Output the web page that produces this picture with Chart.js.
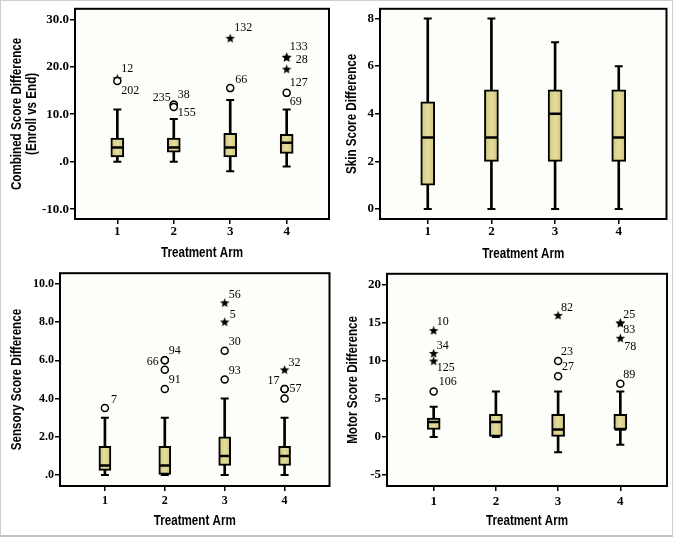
<!DOCTYPE html>
<html>
<head>
<meta charset="utf-8">
<script src="https://cdn.jsdelivr.net/npm/chart.js@4"></script>
<style>
    body { margin: 0; background: #fff; }
    #frame { position: absolute; left: 0; top: 0; width: 671px; height: 534px; border: 1px solid #cfcfcf; border-bottom: 2px solid #c4c4c4; }
    canvas { position: absolute; }
</style>
</head>
<body>
<div id="frame"></div>
<canvas id="combinedChart"></canvas>
<canvas id="skinChart"></canvas>
<canvas id="sensoryChart"></canvas>
<canvas id="motorChart"></canvas>
<script>
const arms = [1, 2, 3, 4];

// [lower whisker, Q1, median, Q3, upper whisker] for arms 1-4
const combinedBoxes = [[0, 1, 3, 5, 11], [0, 2, 3, 5, 9], [-2, 1, 3, 6, 13], [-1, 1.75, 4, 5.75, 11]];
const skinBoxes = [[0, 1, 3, 4.5, 8], [0, 2, 3, 5, 8], [0, 2, 4, 5, 7], [0, 2, 3, 5, 6]];
const sensoryBoxes = [[0, 0.25, 0.5, 1.5, 3], [0, 0, 0.5, 1.5, 3], [0, 0.5, 1, 2, 4], [0, 0.5, 1, 1.5, 3]];
const motorBoxes = [[0, 1, 2, 2.5, 4], [0, 0, 2, 3, 6], [-2, 0, 1, 3, 6], [-1, 1, 1, 3, 6]];

// outliers: [arm, value, "o" = outlier / "*" = extreme, case number]
const combinedOutliers = [
    [1, 17.5, "*", "12"], [1, 17, "o", "202"],
    [2, 12, "o", "235"], [2, 12, "o", "38"], [2, 11.5, "o", "155"],
    [3, 26, "*", "132"], [3, 15.5, "o", "66"],
    [4, 22, "*", "133"], [4, 22, "*", "28"], [4, 19.5, "*", "127"], [4, 14.5, "o", "69"]
];
const skinOutliers = [];
const sensoryOutliers = [
    [1, 3.5, "o", "7"],
    [2, 6, "o", "94"], [2, 6, "o", "66"], [2, 5.5, "o", ""], [2, 4.5, "o", "91"],
    [3, 9, "*", "56"], [3, 8, "*", "5"], [3, 6.5, "o", "30"], [3, 5, "o", "93"],
    [4, 5.5, "*", "32"], [4, 4.5, "o", "17"], [4, 4.5, "o", "57"], [4, 4, "o", ""]
];
const motorOutliers = [
    [1, 14, "*", "10"], [1, 11, "*", "34"], [1, 10, "*", "125"], [1, 6, "o", "106"],
    [3, 16, "*", "82"], [3, 10, "o", "23"], [3, 8, "o", "27"],
    [4, 15, "*", "25"], [4, 15, "*", "83"], [4, 13, "*", "78"], [4, 7, "o", "89"]
];

const combinedTicks = [-10, 0, 10, 20, 30];
const combinedTickLabels = ["-10.0", ".0", "10.0", "20.0", "30.0"];
const skinTicks = [0, 2, 4, 6, 8];
const skinTickLabels = ["0", "2", "4", "6", "8"];
const sensoryTicks = [0, 2, 4, 6, 8, 10];
const sensoryTickLabels = [".0", "2.0", "4.0", "6.0", "8.0", "10.0"];
const motorTicks = [-5, 0, 5, 10, 15, 20];
const motorTickLabels = ["-5", "0", "5", "10", "15", "20"];

// where each case number sits next to its marker: [dx, dy, align]
const combinedLabelPos = [[4, -10, "left"], [4, 10, "left"], [-3, -7, "right"], [4, -10, "left"], [4, 6, "left"],
    [4, -10, "left"], [5, -8, "left"], [3, -10, "left"], [9, 3, "left"], [3, 14, "left"], [3, 9, "left"]];
const skinLabelPos = [];
const sensoryLabelPos = [[6, -8, "left"], [4, -9, "left"], [-6, 2, "right"], [0, 0, "left"], [4, -9, "left"],
    [4, -8, "left"], [5, -7, "left"], [4, -9, "left"], [4, -9, "left"],
    [4, -7, "left"], [-5, -8, "right"], [5, 0, "left"], [0, 0, "left"]];
const motorLabelPos = [[3, -9, "left"], [3, -8, "left"], [3, 7, "left"], [5, -10, "left"],
    [3, -8, "left"], [3, -9, "left"], [4, -9, "left"],
    [3, -8, "left"], [3, 7, "left"], [4, 9, "left"], [3, -9, "left"]];

const serif = "'Liberation Serif', 'Times New Roman', serif";
const titleFontCss = "bold 14px 'Liberation Sans', Arial, sans-serif";
const caseFont = "12px " + serif;

const starImg = document.createElement("canvas");
starImg.width = 11;
starImg.height = 11;
(() => {
    const c = starImg.getContext("2d");
    c.fillStyle = "#000";
    c.beginPath();
    for (let i = 0; i < 10; i++) {
        const r = i % 2 === 0 ? 5 : 2.1;
        const a = -Math.PI / 2 + i * Math.PI / 5;
        c.lineTo(5.5 + r * Math.cos(a), 5.8 + r * Math.sin(a));
    }
    c.closePath();
    c.fill();
})();

// khaki box with a lighter middle, like the SPSS fill
const boxFill = (c, w) => {
    const x = c.raw ? c.chart.scales.x.getPixelForValue(c.raw.x) : NaN;
    if (!isFinite(x)) return "#dad28c";
    const g = c.chart.ctx.createLinearGradient(x - w / 2, 0, x + w / 2, 0);
    g.addColorStop(0, "#cdc378");
    g.addColorStop(0.5, "#e4dd9f");
    g.addColorStop(1, "#cdc378");
    return g;
};

const panelFrame = {
    id: "panelFrame",
    beforeDatasetsDraw(chart) {
        const {ctx, chartArea: a} = chart;
        ctx.save();
        ctx.fillStyle = "#fdfdf9";
        ctx.fillRect(a.left, a.top, a.right - a.left, a.bottom - a.top);
        ctx.restore();
    },
    afterDraw(chart) {
        const {ctx, chartArea: a} = chart;
        ctx.save();
        ctx.strokeStyle = "#000";
        ctx.lineWidth = 2;
        ctx.strokeRect(a.left, a.top, a.right - a.left, a.bottom - a.top);
        ctx.restore();
    }
};

// SPSS used a narrow bold sans for the axis titles, squeeze Liberation Sans to match
const axisTitles = {
    id: "axisTitles",
    afterDraw(chart, args, o) {
        const {ctx, chartArea: a} = chart;
        ctx.save();
        ctx.font = titleFontCss;
        ctx.fillStyle = "#000";
        ctx.textAlign = "center";
        ctx.textBaseline = "middle";
        ctx.save();
        ctx.translate((a.left + a.right) / 2, o.xTitleY);
        ctx.scale(0.83, 1);
        ctx.fillText(o.xTitle, 0, 0);
        ctx.restore();
        o.yTitle.forEach((line, i) => {
            ctx.save();
            ctx.translate(o.yTitleX[i], (a.top + a.bottom) / 2);
            ctx.rotate(-Math.PI / 2);
            ctx.scale(0.83, 1);
            ctx.fillText(line, 0, 0);
            ctx.restore();
        });
        ctx.restore();
    }
};

const caseLabels = {
    id: "caseLabels",
    afterDatasetsDraw(chart, args, opts) {
        const {ctx, scales: {x, y}} = chart;
        ctx.save();
        ctx.font = caseFont;
        ctx.fillStyle = "#000";
        ctx.textBaseline = "middle";
        opts.outliers.forEach((o, i) => {
            const [dx, dy, align] = opts.pos[i];
            ctx.textAlign = align;
            ctx.fillText(o[3], x.getPixelForValue(o[0]) + dx, y.getPixelForValue(o[1]) + dy);
        });
        ctx.restore();
    }
};

const makeChart = (p) => {
    const canvas = document.getElementById(p.id);
    canvas.width = p.rect[2];
    canvas.height = p.rect[3];
    canvas.style.left = p.rect[0] + "px";
    canvas.style.top = p.rect[1] + "px";

    const circles = p.outliers.filter(o => o[2] === "o").map(o => ({x: o[0], y: o[1]}));
    const stars = p.outliers.filter(o => o[2] === "*").map(o => ({x: o[0], y: o[1]}));
    const tickFont = {family: serif, weight: "bold", size: p.tickSize};

    new Chart(canvas, {
        data: {
            datasets: [{
                type: "bar",
                data: arms.map((a, i) => ({x: a, y: [p.boxes[i][1], p.boxes[i][3]]})),
                backgroundColor: c => boxFill(c, p.boxWidth),
                borderColor: "#000",
                borderWidth: 2,
                borderSkipped: false,
                barThickness: p.boxWidth,
                grouped: false,
                order: 2
            }, {
                type: "bar",
                data: arms.map((a, i) => ({x: a, y: [p.boxes[i][0], p.boxes[i][4]]})),
                backgroundColor: "#000",
                barThickness: 2,
                grouped: false,
                order: 3
            }, {
                type: "scatter",
                data: arms.flatMap((a, i) => [{x: a, y: p.boxes[i][0]}, {x: a, y: p.boxes[i][4]}]),
                pointStyle: "line",
                pointRadius: 4,
                pointBorderColor: "#000",
                pointBorderWidth: 2,
                order: 1
            }, {
                type: "scatter",
                data: arms.map((a, i) => ({x: a, y: p.boxes[i][2]})),
                pointStyle: "line",
                pointRadius: p.boxWidth / 2 - 1,
                pointBorderColor: "#000",
                pointBorderWidth: 2.5,
                order: 0
            }, {
                type: "scatter",
                data: circles,
                pointStyle: "circle",
                pointRadius: 3.5,
                pointBackgroundColor: "#fff",
                pointBorderColor: "#000",
                pointBorderWidth: 1.5,
                order: 0
            }, {
                type: "scatter",
                data: stars,
                pointStyle: starImg,
                order: 0
            }]
        },
        options: {
            animation: false,
            responsive: false,
            events: [],
            layout: {padding: {top: p.pad[0], right: p.pad[1], left: 0, bottom: 0}},
            plugins: {
                legend: {display: false},
                tooltip: {enabled: false},
                caseLabels: {outliers: p.outliers, pos: p.labelPos},
                axisTitles: {xTitle: "Treatment Arm", xTitleY: p.xTitleY, yTitle: p.title, yTitleX: p.yTitleX}
            },
            scales: {
                x: {
                    type: "linear",
                    offset: false,
                    min: 0.25,
                    max: 4.75,
                    afterBuildTicks: s => { s.ticks = arms.map(v => ({value: v})); },
                    afterFit: s => { s.height = p.xHeight; },
                    ticks: {font: tickFont, color: "#000", padding: p.xTickPad, callback: v => String(v)},
                    grid: {offset: false, drawOnChartArea: false, color: "#000", lineWidth: 1.5, tickLength: 5},
                    border: {display: false}
                },
                y: {
                    type: "linear",
                    min: p.range[0],
                    max: p.range[1],
                    afterBuildTicks: s => { s.ticks = p.ticks.map(v => ({value: v})); },
                    afterFit: s => { s.width = p.yWidth; },
                    ticks: {font: tickFont, color: "#000", padding: 1, callback: (v, i) => p.tickLabels[i]},
                    grid: {drawOnChartArea: false, color: "#000", lineWidth: 1.5, tickLength: 5},
                    border: {display: false}
                }
            }
        },
        plugins: [panelFrame, axisTitles, caseLabels]
    });
};

[{
    id: "combinedChart", rect: [0, 0, 337, 265], pad: [5, 4], yWidth: 75, xHeight: 46, tickSize: 13,
    xTickPad: 0, xTitleY: 253, yTitleX: [17, 32], boxWidth: 13, range: [-12.07, 32.21],
    boxes: combinedBoxes, outliers: combinedOutliers, labelPos: combinedLabelPos,
    ticks: combinedTicks, tickLabels: combinedTickLabels,
    title: ["Combined Score Difference", "(Enroll vs End)"]
}, {
    id: "skinChart", rect: [337, 0, 338, 265], pad: [5, 7], yWidth: 43, xHeight: 46, tickSize: 13,
    xTickPad: 0, xTitleY: 254, yTitleX: [15], boxWidth: 14, range: [-0.425, 8.41],
    boxes: skinBoxes, outliers: skinOutliers, labelPos: skinLabelPos,
    ticks: skinTicks, tickLabels: skinTickLabels,
    title: ["Skin Score Difference"]
}, {
    id: "sensoryChart", rect: [0, 265, 337, 274], pad: [6, 3], yWidth: 60, xHeight: 53, tickSize: 12,
    xTickPad: 3, xTitleY: 256, yTitleX: [17], boxWidth: 12, range: [-0.57, 10.55],
    boxes: sensoryBoxes, outliers: sensoryOutliers, labelPos: sensoryLabelPos,
    ticks: sensoryTicks, tickLabels: sensoryTickLabels,
    title: ["Sensory Score Difference"]
}, {
    id: "motorChart", rect: [337, 265, 338, 274], pad: [6, 7], yWidth: 50, xHeight: 53, tickSize: 13,
    xTickPad: 3, xTitleY: 256, yTitleX: [16], boxWidth: 13, range: [-6.43, 21.47],
    boxes: motorBoxes, outliers: motorOutliers, labelPos: motorLabelPos,
    ticks: motorTicks, tickLabels: motorTickLabels,
    title: ["Motor Score Difference"]
}].forEach(makeChart);
</script>
</body>
</html>
